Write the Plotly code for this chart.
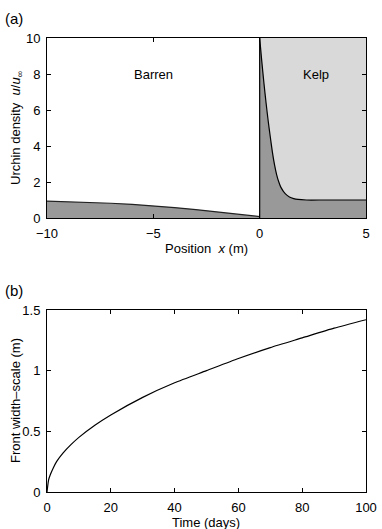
"""Urchin front: density profile (a) and front width-scale over time (b)."""

import plotly.graph_objects as go

# (a) barren side, x < 0
barren_x = [-10, -9, -8, -7, -6, -5, -4, -3, -2, -1, -0.5, 0]
barren_u = [0.94, 0.91, 0.87, 0.82, 0.76, 0.68, 0.58, 0.47, 0.35, 0.22, 0.15, 0.08]

# (a) kelp side, x > 0
kelp_x = [0, 0.1, 0.2, 0.3, 0.4, 0.5, 0.6, 0.7, 0.8, 0.9, 1.0, 1.2, 1.4, 1.6, 1.8, 2.2, 3, 4, 5]
kelp_u = [10, 8.7, 7.5, 6.4, 5.4, 4.5, 3.65, 2.95, 2.4, 2.0, 1.7, 1.35, 1.17, 1.08, 1.03, 1.0,
          1.0, 1.0, 1.0]
kelp_top = [10, 10]
kelp_span = [0, 5]

# (b) front width-scale
t_days = [0, 0.5, 1, 2, 3, 5, 7.5, 10, 15, 20, 30, 40, 50, 60, 70, 80, 90, 100]
width_m = [0, 0.10, 0.14, 0.20, 0.25, 0.32, 0.39, 0.45, 0.55, 0.635, 0.78, 0.90,
           1.00, 1.10, 1.19, 1.27, 1.35, 1.42]

DARK = "#999999"
LIGHT = "#d9d9d9"
FONT = "Liberation Sans, Arial, sans-serif"

W, H = 382, 529
ML, MR, MT, MB = 47, 16, 38, 37


def paper(px, py):
    """Pixel position in the figure -> paper coordinates."""
    return (px - ML) / (W - ML - MR), (H - MB - py) / (H - MT - MB)


fig = go.Figure()

# kelp zone background
fig.add_trace(go.Scatter(x=kelp_span, y=kelp_top, mode="lines", line=dict(width=0),
                         fill="tozeroy", fillcolor=LIGHT, xaxis="x", yaxis="y"))
fig.add_trace(go.Scatter(x=kelp_x, y=kelp_u, mode="lines",
                         line=dict(color="black", width=1.2, shape="spline", smoothing=0.6),
                         fill="tozeroy", fillcolor=DARK, xaxis="x", yaxis="y"))
fig.add_trace(go.Scatter(x=barren_x, y=barren_u, mode="lines", line=dict(color="#222", width=1.2),
                         fill="tozeroy", fillcolor=DARK, xaxis="x", yaxis="y"))
fig.add_trace(go.Scatter(x=t_days, y=width_m, mode="lines",
                         line=dict(color="black", width=1.2, shape="spline", smoothing=0.6),
                         xaxis="x2", yaxis="y2"))

fig.add_vline(x=0, line=dict(color="black", width=1.2), xref="x", yref="y")

ax = dict(showgrid=False, zeroline=False, showline=True, linecolor="black", linewidth=1,
          mirror="ticks", ticks="inside", ticklen=4, tickcolor="black", automargin=False,
          ticklabelstandoff=3, tickfont=dict(size=13, color="black"))

titles = [
    ("Position  <i>x</i> (m)", 206, 248, 0),
    ("Urchin density  <i>u</i>/<i>u</i><sub>\u221e</sub>", 16, 128, -90),
    ("Time (days)", 206, 522, 0),
    ("Front width\u2013scale (m)", 15, 401, -90),
    ("(a)", 14, 18, 0),
    ("(b)", 14, 290, 0),
]
annotations = [
    dict(text="Barren", x=-5, y=8, xref="x", yref="y", showarrow=False, font=dict(size=13)),
    dict(text="Kelp", x=2.65, y=8, xref="x", yref="y", showarrow=False, font=dict(size=13)),
]
for text, px, py, ang in titles:
    x, y = paper(px, py)
    size = 15 if text.startswith("(") else 13
    annotations.append(dict(text=text, x=x, y=y, xref="paper", yref="paper", showarrow=False,
                            xanchor="center", yanchor="middle", textangle=ang,
                            font=dict(size=size)))

fig.update_layout(
    width=W, height=H,
    margin=dict(l=ML, r=MR, t=MT, b=MB),
    paper_bgcolor="white", plot_bgcolor="white",
    showlegend=False,
    font=dict(family=FONT, size=13, color="black"),
    xaxis=dict(ax, domain=[0, 1], anchor="y", range=[-10, 5], tickvals=[-10, -5, 0, 5],
               ticktext=["\u221210", "\u22125", "0", "5"]),
    yaxis=dict(ax, domain=[paper(0, 218)[1], 1], anchor="x", range=[0, 10], dtick=2),
    xaxis2=dict(ax, domain=[0, 1], anchor="y2", range=[0, 100], dtick=20),
    yaxis2=dict(ax, domain=[0, paper(0, 310)[1]], anchor="x2", range=[0, 1.5],
                tickvals=[0, 0.5, 1, 1.5], ticktext=["0", "0.5", "1", "1.5"]),
    annotations=annotations,
)

# the page's default body margin would push the figure 8px off the window
fig.write_html("out.html", config={"displayModeBar": False},
               post_script="document.body.style.margin='0';")
